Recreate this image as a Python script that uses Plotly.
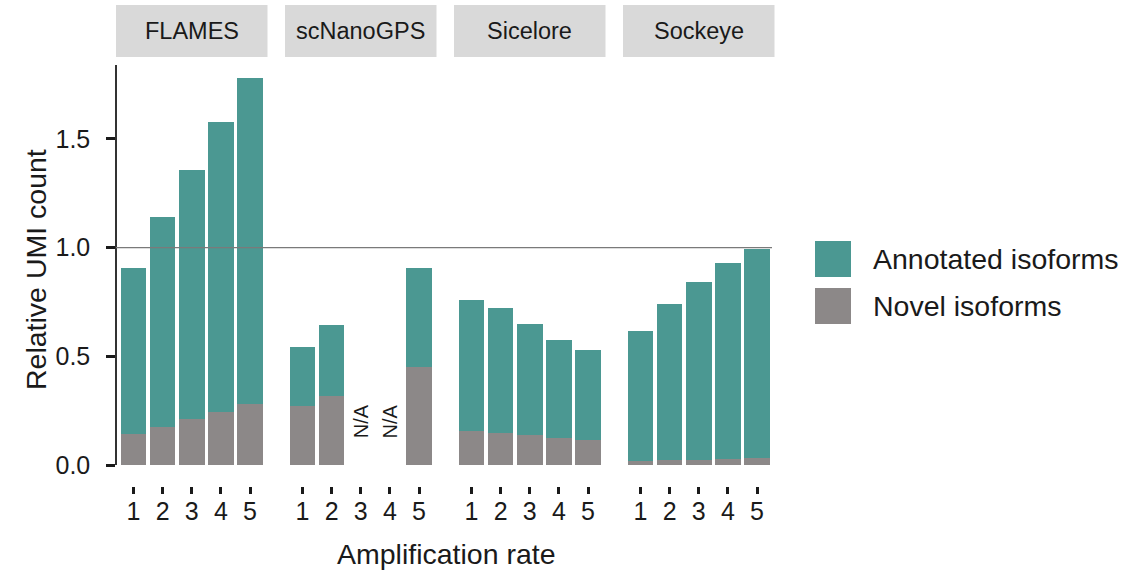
import plotly.graph_objects as go

# Relative UMI counts per tool and amplification rate (None = not available)
tools = ["FLAMES", "scNanoGPS", "Sicelore", "Sockeye"]
rates = [1, 2, 3, 4, 5]
total = {
    "FLAMES":    [0.904, 1.142, 1.359, 1.577, 1.782],
    "scNanoGPS": [0.541, 0.642, None, None, 0.904],
    "Sicelore":  [0.759, 0.722, 0.650, 0.573, 0.527],
    "Sockeye":   [0.618, 0.740, 0.841, 0.927, 0.992],
}
novel = {
    "FLAMES":    [0.141, 0.176, 0.211, 0.245, 0.279],
    "scNanoGPS": [0.273, 0.317, None, None, 0.449],
    "Sicelore":  [0.158, 0.149, 0.138, 0.123, 0.115],
    "Sockeye":   [0.017, 0.023, 0.025, 0.029, 0.034],
}
series_names = ["Annotated isoforms", "Novel isoforms"]

TEAL = "#4b9892"
GRAY = "#8c8888"
INK = "#1a1a1a"
FONT = "Liberation Sans, Arial, sans-serif"
W, H = 1140, 573

def px_x(v):
    return v / W

def px_y(v):
    return (H - v) / H

panel_px = [(116, 267.5), (285, 436.5), (454, 605.5), (623, 774.5)]
y_bottom_px, y_top_px = 465, 65
y_max = 1.84

fig = go.Figure()
layout = dict(
    width=W, height=H,
    margin=dict(l=0, r=0, t=0, b=0, autoexpand=False),
    plot_bgcolor="white", paper_bgcolor="white",
    barmode="stack", showlegend=False,
    font=dict(family=FONT, color=INK),
)

shapes, annotations = [], []
for i, tool in enumerate(tools):
    xa = "x" if i == 0 else f"x{i + 1}"
    annotated = [None if t is None else t - n for t, n in zip(total[tool], novel[tool])]
    fig.add_trace(go.Bar(x=rates, y=novel[tool], xaxis=xa, yaxis="y",
                         marker=dict(color=GRAY, line=dict(width=0)),
                         name=series_names[1], width=0.88))
    fig.add_trace(go.Bar(x=rates, y=annotated, xaxis=xa, yaxis="y",
                         marker=dict(color=TEAL, line=dict(width=0)),
                         name=series_names[0], width=0.88))
    x0, x1 = panel_px[i]
    layout["xaxis" if i == 0 else f"xaxis{i + 1}"] = dict(
        domain=[px_x(x0), px_x(x1)], range=[0.4, 5.6],
        anchor="free", position=px_y(486), automargin=False,
        tickmode="array", tickvals=rates, ticktext=[str(r) for r in rates],
        ticks="outside", ticklen=7, tickwidth=2.5, tickcolor=INK,
        ticklabelstandoff=-4,
        showline=False, showgrid=False, zeroline=False,
        tickfont=dict(size=25, color=INK),
    )
    # facet strip
    shapes.append(dict(type="rect", xref="paper", yref="paper",
                       x0=px_x(x0), x1=px_x(x1), y0=px_y(57), y1=px_y(5),
                       fillcolor="#d9d9d9", line=dict(width=0), layer="below"))
    annotations.append(dict(text=tool, xref="paper", yref="paper",
                            x=px_x((x0 + x1) / 2), y=px_y(31),
                            xanchor="center", yanchor="middle", showarrow=False,
                            font=dict(size=23.5, color=INK)))
    # missing values
    for r, t in zip(rates, total[tool]):
        if t is None:
            annotations.append(dict(text="N/A", xref=xa, yref="y", x=r, y=0.2,
                                    textangle=-90, showarrow=False,
                                    xanchor="center", yanchor="middle",
                                    font=dict(size=20, color=INK)))

layout["yaxis"] = dict(
    domain=[px_y(y_bottom_px), px_y(y_top_px)], range=[0, y_max],
    anchor="free", position=px_x(116), automargin=False,
    tickvals=[0, 0.5, 1.0, 1.5], ticktext=["0.0", "0.5", "1.0", "1.5"],
    ticks="outside", ticklen=9, tickwidth=2.5, tickcolor=INK,
    ticklabelstandoff=11,
    showline=True, linecolor="#333", linewidth=1.5,
    showgrid=False, zeroline=False,
    tickfont=dict(size=25, color=INK),
)

# reference line at 1.0 across all panels
shapes.append(dict(type="line", xref="paper", yref="y",
                   x0=px_x(116), x1=px_x(772), y0=1.0, y1=1.0,
                   line=dict(color="#7a7a7a", width=1.3), layer="above"))

# axis titles
annotations.append(dict(text="Amplification rate", xref="paper", yref="paper",
                        x=px_x(446), y=px_y(554), xanchor="center", yanchor="middle",
                        showarrow=False, font=dict(size=28.5, color=INK)))
annotations.append(dict(text="Relative UMI count", xref="paper", yref="paper",
                        x=px_x(36), y=px_y(270), xanchor="center", yanchor="middle",
                        textangle=-90, showarrow=False,
                        font=dict(size=28.5, color=INK)))

# legend
legend_items = [(series_names[0], TEAL, 241), (series_names[1], GRAY, 288)]
for label, color, top in legend_items:
    shapes.append(dict(type="rect", xref="paper", yref="paper",
                       x0=px_x(815), x1=px_x(851), y0=px_y(top + 36), y1=px_y(top),
                       fillcolor=color, line=dict(width=0)))
    annotations.append(dict(text=label, xref="paper", yref="paper",
                            x=px_x(871), y=px_y(top + 18), xanchor="left", yanchor="middle",
                            showarrow=False, font=dict(size=28.5, color=INK)))

layout["shapes"] = shapes
layout["annotations"] = annotations
fig.update_layout(**layout)
fig.write_html("out.html")
